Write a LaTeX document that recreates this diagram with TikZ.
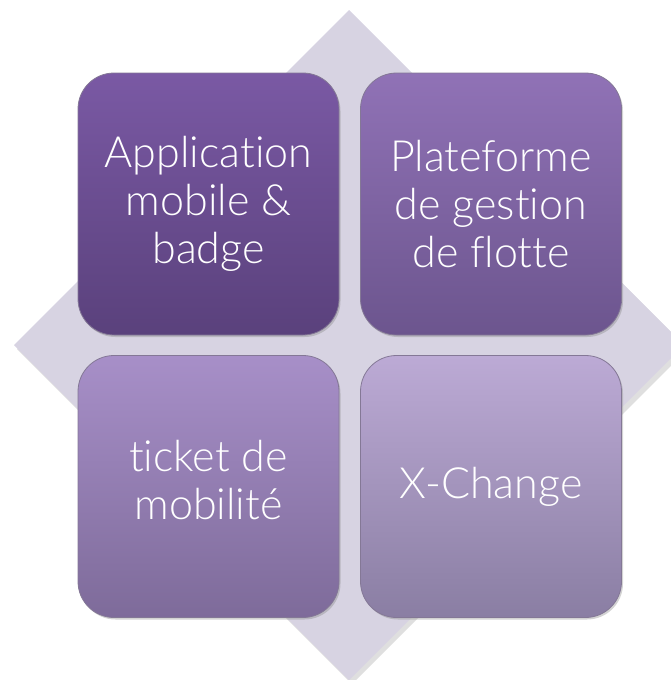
\documentclass[tikz,border=0pt]{standalone}
\usepackage{fontspec}
\setmainfont{Lato}[UprightFont={* Light}, RawFeature={-liga;-dlig}]
\usetikzlibrary{shadows,shapes.geometric}
\definecolor{diamc}{RGB}{215,211,226}
\definecolor{tlTop}{RGB}{122,89,164}
\definecolor{tlBot}{RGB}{90,65,124}
\definecolor{trTop}{RGB}{144,114,182}
\definecolor{trBot}{RGB}{108,85,142}
\definecolor{blTop}{RGB}{167,143,200}
\definecolor{blBot}{RGB}{126,107,154}
\definecolor{brTop}{RGB}{188,170,213}
\definecolor{brBot}{RGB}{138,126,163}
\definecolor{edgec}{RGB}{80,62,105}
\tikzset{
  tile/.style={rectangle, rounded corners=36pt, minimum width=261pt, minimum height=262pt,
    draw=edgec!70, line width=0.8pt, text=white, align=center,
    font=\fontsize{43}{48}\selectfont,
    drop shadow={shadow xshift=1.5pt, shadow yshift=-2pt, opacity=0.35}},
}
\begin{document}
\begin{tikzpicture}[x=1pt,y=-1pt]
\useasboundingbox (0,0) rectangle (671,680);
\clip (0,0) rectangle (671,680);
\fill[black!25, opacity=0.5] (352,14) -- (688,349) -- (352,684) -- (17,349) -- cycle;
\fill[diamc] (349,10) -- (684,345) -- (349,680) -- (14,345) -- cycle;
\node[tile, top color=tlTop, bottom color=tlBot] (app) at (208.5,204) {Application\\mobile \&\\badge};
\node[tile, top color=trTop, bottom color=trBot] (plat) at (491,204) {Plateforme\\de gestion\\de flotte};
\node[tile, top color=blTop, bottom color=blBot, text depth=14pt] (ticket) at (208.5,486.5) {ticket de\\mobilité};
\node[tile, top color=brTop, bottom color=brBot] (xch) at (491,486.5) {X-Change};
\end{tikzpicture}
\end{document}
